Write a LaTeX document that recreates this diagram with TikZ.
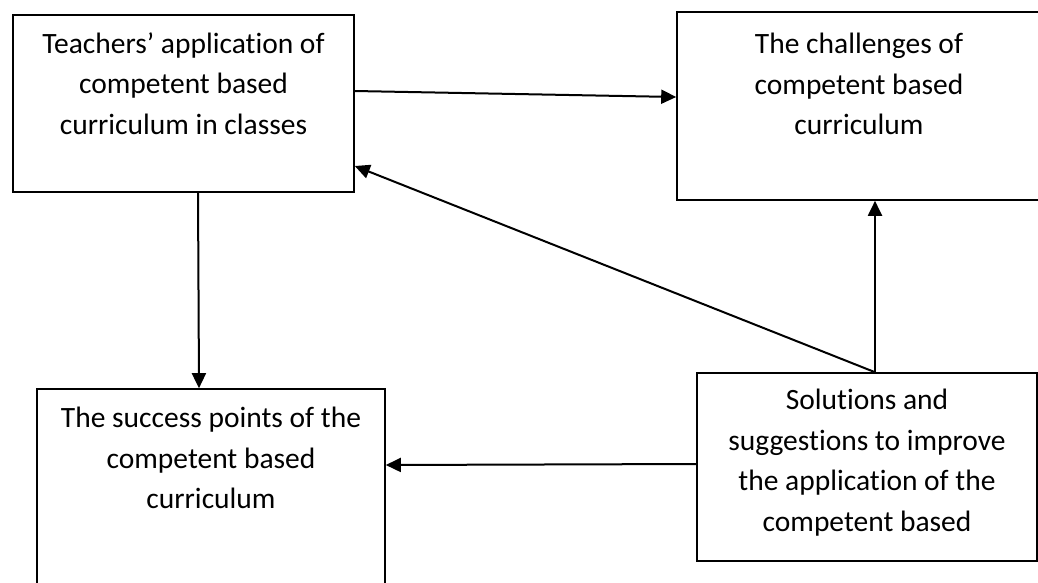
\documentclass[tikz,border=0pt]{standalone}
\usepackage{fontspec}
\setmainfont{Carlito}[RawFeature=-liga]
\usetikzlibrary{arrows.meta}
\begin{document}
\begin{tikzpicture}[x=1pt,y=-1pt,
  box/.style={draw=black, line width=1.6pt, inner sep=0pt},
  txt/.style={anchor=north, align=center, inner sep=0pt, font=\fontsize{29.5}{40.5}\selectfont},
  conn/.style={line width=2pt, -{Triangle[length=15pt,width=14pt]}}]
\useasboundingbox (0,0) rectangle (1038,582);
\clip (0,0) rectangle (1038,582);
\fill[white] (0,0) rectangle (1038,582);
% boxes
\node[box, minimum width=341pt, minimum height=177pt] (A) at (183.5,103.5) {};
\node[box, minimum width=364pt, minimum height=188pt] (B) at (859,106) {};
\node[box, minimum width=348pt, minimum height=220pt] (C) at (211,499) {};
\node[box, minimum width=340pt, minimum height=188pt] (D) at (867,467) {};
% texts
\node[txt] (tA) at (183.5,32) {Teachers’ application of\\competent based\\curriculum in classes};
\node[txt] (tB) at (859,33) {The challenges of\\competent based\\curriculum};
\node[txt] (tC) at (211,407) {The success points of the\\competent based\\curriculum};
\node[txt] (tD) at (867,389) {Solutions and\\suggestions to improve\\the application of the\\competent based};
% connectors
\draw[conn] (A.east |- 0,91) -- (B.west |- 0,97);
\draw[conn] (D.north -| 875,0) -- (A.east |- 0,166);
\draw[conn] (D.north -| 875,0) -- (B.south -| 875,0);
\draw[conn] (A.south -| 198,0) -- (C.north -| 199,0);
\draw[conn] (D.west |- 0,464) -- (C.east |- 0,465);
\end{tikzpicture}
\end{document}
